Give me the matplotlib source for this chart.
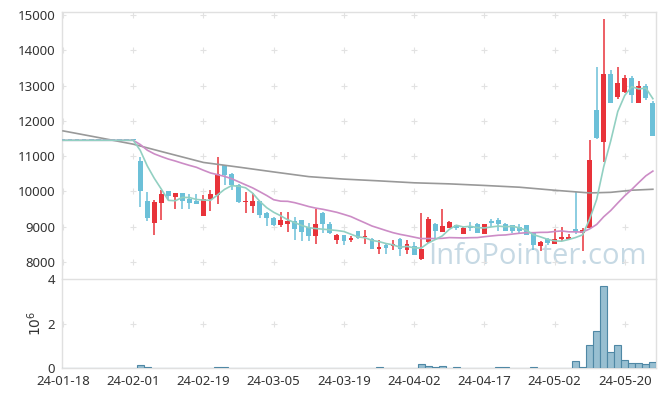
import numpy as np
import pandas as pd
import matplotlib
matplotlib.use("Agg")
import matplotlib.pyplot as plt

plt.rcParams['font.family'] = ['Noto Sans', 'DejaVu Sans']

# trading days (KRX calendar)
holidays = ['2024-02-09', '2024-02-12', '2024-03-01', '2024-04-10',
            '2024-05-01', '2024-05-06', '2024-05-15']
dates = pd.bdate_range('2024-01-18', '2024-05-24', freq='C', holidays=holidays)

opens = [11450] * 11 + [
    10857, 9722, 9106, 9674, 10006, 9844, 9958, 9779, 9731, 9305,
    9779, 9912, 10743, 10508, 10195, 9690, 9589, 9722, 9390, 9259,
    9041, 9069, 9154, 9183, 8993, 8738, 9400, 9088, 8615, 8757,
    8615, 8870, 8700, 8662, 8360, 8473, 8455, 8662, 8331, 8445,
    8096, 8568, 9088, 8851, 8975, 9041, 8805, 9012, 9088, 8805,
    9154, 9202, 9088, 9041, 8993, 9041, 8851, 8445, 8662, 8502,
    8643, 8660, 8927, 8823, 8975, 12304, 11405, 13326, 12682, 12825,
    13203, 12513, 12994, 12494]
highs = [11450] * 11 + [
    10980, 9986, 9770, 10034, 10010, 9960, 9960, 9920, 9920, 9892,
    10054, 10980, 10750, 10510, 10224, 9986, 9958, 9725, 9419, 9265,
    9419, 9419, 9277, 9190, 9100, 9515, 9405, 9120, 8790, 8760,
    8730, 8880, 8900, 8680, 8615, 8540, 8615, 8680, 8615, 8570,
    9390, 9277, 9100, 9515, 9160, 9060, 9000, 9135, 9095, 9088,
    9220, 9250, 9095, 9045, 9088, 9045, 8860, 8600, 8670, 8946,
    8993, 8800, 9986, 8970, 11453, 13516, 14878, 13440, 13516, 13297,
    13260, 13136, 13050, 12550]
lows = [11450] * 11 + [
    9560, 9154, 8777, 9203, 9770, 9515, 9515, 9515, 9640, 9300,
    9438, 9656, 10195, 10054, 9680, 9390, 9400, 9259, 9032, 9021,
    8993, 8851, 8615, 8587, 8587, 8521, 8823, 8790, 8521, 8493,
    8558, 8650, 8521, 8370, 8238, 8238, 8330, 8161, 8220, 8200,
    8048, 8550, 8615, 8840, 8960, 8900, 8800, 8880, 8823, 8800,
    8990, 8880, 8880, 8830, 8820, 8757, 8331, 8300, 8480, 8500,
    8600, 8620, 8800, 8312, 8975, 11480, 10837, 12500, 12608, 12780,
    12494, 12500, 12580, 11566]
closes = [11450] * 11 + [
    10014, 9248, 9693, 9920, 9864, 9958, 9722, 9674, 9645, 9779,
    9920, 10488, 10460, 10176, 9693, 9702, 9722, 9325, 9259, 9041,
    9202, 9154, 8927, 8851, 8738, 9069, 9069, 8833, 8757, 8596,
    8681, 8692, 8712, 8380, 8425, 8408, 8502, 8380, 8502, 8209,
    8380, 9211, 8880, 9012, 9135, 8975, 8965, 8975, 8823, 9088,
    9117, 9088, 8880, 8880, 8880, 8757, 8473, 8568, 8538, 8662,
    8710, 8710, 8851, 8918, 10905, 11501, 13326, 12513, 13080, 13203,
    12730, 12994, 12655, 11566]

# volume, millions of shares
volume_m = [0] * 11 + [
    0.13, 0.08, 0.03, 0.01, 0.01, 0.01, 0.03, 0.01, 0.01, 0.01,
    0.01, 0.08, 0.04, 0.01, 0.01, 0.01, 0.01, 0.01, 0.01, 0.01,
    0.01, 0.01, 0.01, 0.01, 0.01, 0.03, 0.01, 0.01, 0.01, 0.01,
    0.01, 0.01, 0.01, 0.01, 0.04, 0.01, 0.01, 0.01, 0.01, 0.01,
    0.18, 0.10, 0.06, 0.09, 0.01, 0.04, 0.01, 0.01, 0.01, 0.01,
    0.01, 0.05, 0.05, 0.01, 0.01, 0.01, 0.04, 0.01, 0.01, 0.01,
    0.01, 0.01, 0.35, 0.04, 1.05, 1.67, 3.68, 0.72, 1.05, 0.39,
    0.24, 0.24, 0.19, 0.27]

# 60-day average (needs history before the window)
ma60_idx = [0, 5, 10, 15, 20, 25, 30, 35, 40, 45, 50, 55, 60, 65, 70, 75, 78, 81, 84]
ma60_val = [11717, 11530, 11340, 11080, 10822, 10690, 10553, 10420, 10350, 10300,
            10245, 10215, 10170, 10120, 10034, 9958, 9975, 10035, 10062]

UP = '#e8333a'
DOWN = '#6cc0d8'

x = np.arange(len(dates))
o = np.array(opens, float)
h = np.array(highs, float)
l = np.array(lows, float)
c = np.array(closes, float)
vol = np.array(volume_m) * 1e6

close_s = pd.Series(c)
ma5 = close_s.rolling(5, min_periods=1).mean()
ma20 = close_s.rolling(20, min_periods=1).mean()

fig = plt.figure(figsize=(6.65, 3.97), dpi=100)
ax = fig.add_axes([0.0932, 0.2965, 0.8933, 0.674])
axv = fig.add_axes([0.0932, 0.0723, 0.8933, 0.2242], sharex=ax)

# watermark
ax.text(0.80, 0.085, 'InfoPointer.com', transform=ax.transAxes, ha='center', va='center',
        fontsize=21, color='#c6d9e4', zorder=0, family=['Open Sans', 'DejaVu Sans'])

# candles (red = up, blue = down)
colors = [UP if cc > oo else DOWN for oo, cc in zip(o, c)]
ax.vlines(x, l, h, colors=colors, linewidth=1.1, zorder=3)
body_bot = np.minimum(o, c)
body_h = np.maximum(np.abs(c - o), 30)
ax.bar(x, body_h, bottom=body_bot, width=0.68, color=colors, linewidth=0, zorder=4)

# moving averages
ax.plot(ma60_idx, ma60_val, color='#999999', linewidth=1.2, zorder=5)
ax.plot(x, ma20, color='#cc8cc6', linewidth=1.2, zorder=5)
ax.plot(x, ma5, color='#92d0c2', linewidth=1.2, zorder=5)

# volume
axv.bar(x, vol, width=1.0, color='#98bfd1', edgecolor='#4f88a5', linewidth=0.8, zorder=3)

xticks = x[::10]
ax.set_xlim(-0.15, 84.45)
ax.set_ylim(7510, 15095)
axv.set_ylim(0, 4e6)

ax.set_yticks(range(8000, 15001, 1000))
axv.set_yticks([0, 2e6, 4e6])
axv.set_yticklabels(['0', '2', '4'])
axv.set_xticks(xticks)
axv.set_xticklabels([d.strftime('%y-%m-%d') for d in dates[::10]])
plt.setp(ax.get_xticklabels(), visible=False)
axv.set_ylabel(r'$10^6$', fontsize=10, color='#333333', labelpad=2)

# plus-shaped grid marks
gx, gy = np.meshgrid(xticks, np.arange(8000, 15001, 1000))
ax.scatter(gx.ravel(), gy.ravel(), marker='+', s=16, color='#e2e2e2', linewidths=0.8, zorder=1)
gx, gy = np.meshgrid(xticks, [2e6])
axv.scatter(gx.ravel(), gy.ravel(), marker='+', s=16, color='#e2e2e2', linewidths=0.8, zorder=1)

for a in (ax, axv):
    a.tick_params(length=0, labelsize=9.5, colors='#333333', pad=5)
    for s in a.spines.values():
        s.set_color('#e0e0e0')
        s.set_linewidth(1)
ax.spines['bottom'].set_visible(False)

fig.savefig('out.png', dpi=100)
